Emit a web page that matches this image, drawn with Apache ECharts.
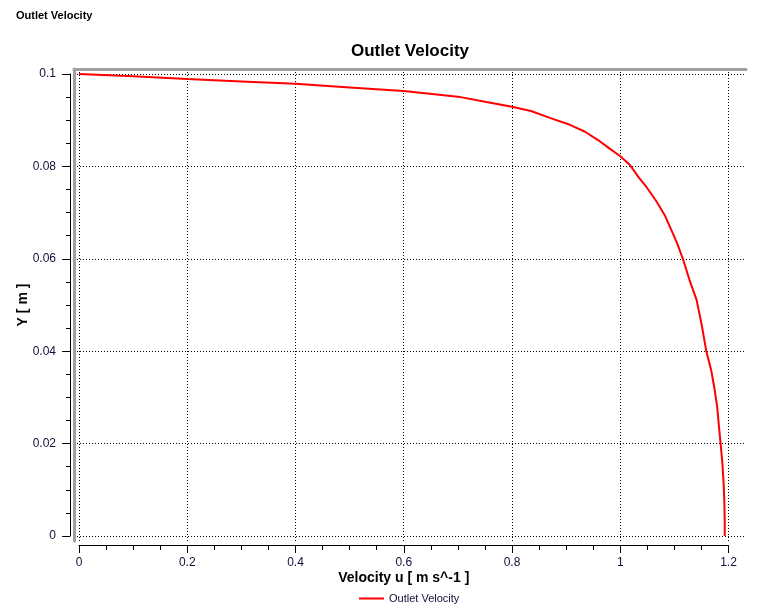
<!DOCTYPE html>
<html>
<head>
<meta charset="utf-8">
<script src="https://cdn.jsdelivr.net/npm/echarts@6/dist/echarts.min.js"></script>
<style>
html,body{margin:0;padding:0;background:#fff;}
#chart{width:763px;height:614px;}
</style>
</head>
<body>
<div id="chart"></div>
<script>
// Data (velocity u [m s^-1], Y [m])
const velocity = [0, 0.1, 0.2, 0.3, 0.4, 0.5, 0.6, 0.7, 0.76, 0.8, 0.835, 0.87, 0.907, 0.935, 0.959, 0.981, 0.999, 1.018, 1.033, 1.048, 1.067, 1.082, 1.0945, 1.105, 1.116, 1.128, 1.141, 1.150, 1.159, 1.168, 1.1745, 1.179, 1.183, 1.1856, 1.1887, 1.191, 1.1924, 1.193, 1.193];
const yPos = [0.1, 0.0995, 0.0989, 0.0984, 0.0979, 0.0971, 0.0963, 0.0951, 0.0938, 0.0929, 0.0920, 0.0905, 0.0890, 0.0875, 0.0857, 0.0838, 0.0823, 0.0803, 0.0778, 0.0756, 0.0724, 0.0695, 0.0662, 0.0634, 0.0599, 0.0554, 0.0511, 0.0460, 0.0400, 0.0359, 0.0316, 0.0280, 0.0229, 0.0198, 0.0157, 0.0114, 0.0071, 0.0030, 0];
const xTicks = [0, 0.2, 0.4, 0.6, 0.8, 1, 1.2];
const yTicks = [0, 0.02, 0.04, 0.06, 0.08, 0.1];
const seriesName = 'Outlet Velocity';
const pageTitle = 'Outlet Velocity';
const chartTitle = 'Outlet Velocity';
const xName = 'Velocity u [ m s^-1 ]';
const yName = 'Y [ m ]';

const points = velocity.map((v, i) => [v, yPos[i]]);
const FONT = '"Liberation Sans", Arial, sans-serif';
const labelColor = '#10103a';

const chart = echarts.init(document.getElementById('chart'), null, {renderer: 'canvas'});
chart.setOption({
  backgroundColor: '#fff',
  animation: false,
  textStyle: {fontFamily: FONT},
  title: [
    {text: pageTitle, left: 16, top: 10, padding: 0,
     textStyle: {fontSize: 11, fontWeight: 'bold', color: '#000', fontFamily: FONT}},
    {text: chartTitle, left: 410, textAlign: 'center', top: 43, padding: 0,
     textStyle: {fontSize: 17, fontWeight: 'bold', color: '#000', fontFamily: FONT}}
  ],
  legend: {
    left: 359, top: 593, padding: 0,
    itemWidth: 25, itemHeight: 14, itemGap: 10,
    textStyle: {fontSize: 11, color: labelColor, fontFamily: FONT},
    data: [{name: seriesName, icon: 'path://M0,0 L25,0 L25,2 L0,2 Z', itemStyle: {color: '#ff0000'}}]
  },
  grid: [
    {left: 79, right: 34.5, top: 74, bottom: 78, outerBoundsMode: 'none', containLabel: false},
    {left: 74, right: 17, top: 69, bottom: 73, outerBoundsMode: 'none', containLabel: false}
  ],
  xAxis: [
    {
      type: 'value', gridIndex: 0, min: 0, max: 1.2, interval: 0.2,
      position: 'bottom', offset: 9,
      name: xName, nameLocation: 'middle', nameGap: 26, nameMoveOverlap: false,
      nameTextStyle: {fontSize: 14, fontWeight: 'bold', color: '#000', fontFamily: FONT},
      axisLine: {show: true, onZero: false, lineStyle: {color: '#000', width: 1}},
      axisTick: {show: true, inside: false, length: 8, lineStyle: {color: '#000'}},
      minorTick: {show: true, splitNumber: 4, length: 5, lineStyle: {color: '#000'}},
      axisLabel: {show: true, margin: 12, fontSize: 12, color: labelColor, fontFamily: FONT,
                  formatter: v => String(+v.toFixed(2))},
      splitLine: {show: false},
      minorSplitLine: {show: false}
    },
    {
      type: 'value', gridIndex: 1, min: -5 / 541.25, max: 1.2 + 17.5 / 541.25,
      position: 'top',
      axisLine: {show: true, onZero: false, lineStyle: {color: '#a0a0a0', width: 3}},
      axisTick: {show: false, customValues: xTicks},
      axisLabel: {show: false, customValues: xTicks},
      splitLine: {show: true, lineStyle: {color: '#000', width: 1, type: [1, 2]}}
    }
  ],
  yAxis: [
    {
      type: 'value', gridIndex: 0, min: 0, max: 0.1, interval: 0.02,
      position: 'left', offset: 9,
      name: yName, nameLocation: 'middle', nameGap: 40, nameRotate: 90, nameMoveOverlap: false,
      nameTextStyle: {fontSize: 14, fontWeight: 'bold', color: '#000', fontFamily: FONT},
      axisLine: {show: true, onZero: false, lineStyle: {color: '#000', width: 1}},
      axisTick: {show: true, inside: false, length: 8, lineStyle: {color: '#000'}},
      minorTick: {show: true, splitNumber: 4, length: 4, lineStyle: {color: '#000'}},
      axisLabel: {show: true, margin: 14, fontSize: 12, color: labelColor, fontFamily: FONT,
                  formatter: v => String(+v.toFixed(3))},
      splitLine: {show: false},
      minorSplitLine: {show: false}
    },
    {
      type: 'value', gridIndex: 1, min: -5 / 4620, max: 0.1 + 5 / 4620,
      position: 'left',
      axisLine: {show: true, onZero: false, lineStyle: {color: '#a0a0a0', width: 3}},
      axisTick: {show: false, customValues: yTicks},
      axisLabel: {show: false, customValues: yTicks},
      splitLine: {show: true, lineStyle: {color: '#000', width: 1, type: [1, 2]}}
    }
  ],
  series: [
    {
      name: seriesName, type: 'line', xAxisIndex: 0, yAxisIndex: 0,
      data: points, showSymbol: false, symbol: 'none', smooth: false,
      lineStyle: {color: '#ff0000', width: 2},
      itemStyle: {color: '#ff0000'},
      z: 5
    }
  ]
});
</script>
</body>
</html>
